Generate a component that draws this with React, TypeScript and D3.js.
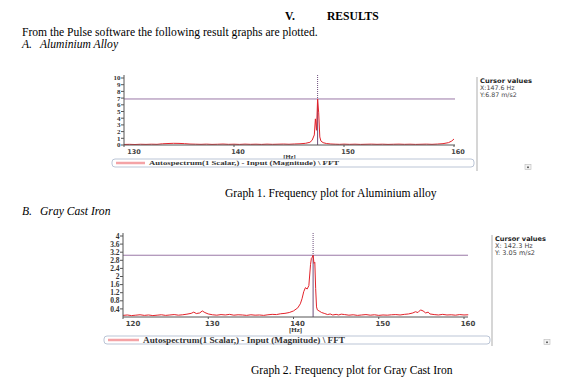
import * as d3 from 'd3';

// ---------------------------------------------------------------------------
// Data
// ---------------------------------------------------------------------------

const AL_FREQ = [
  130, 130.5, 131, 131.5, 132, 132.5, 133, 133.5, 134, 134.5, 135, 135.5, 136, 136.5,
  137, 137.5, 138, 138.5, 139, 139.5, 140, 140.5, 141, 141.5, 142, 142.5, 143, 143.5,
  144, 144.5, 145, 145.5, 146, 146.5, 146.9, 147.1, 147.3, 147.4, 147.5, 147.6, 147.7,
  147.8, 147.9, 148.1, 148.4, 148.8, 149.2, 149.6, 150, 150.5, 151, 151.5, 152, 152.5,
  153, 153.5, 154, 154.5, 155, 155.5, 156, 156.5, 157, 157.5, 158, 158.5, 159, 159.5,
  159.8, 160,
];
const AL_AMP = [
  0.08, 0.1, 0.07, 0.11, 0.09, 0.12, 0.1, 0.18, 0.22, 0.25, 0.24, 0.2, 0.14, 0.12,
  0.1, 0.13, 0.09, 0.11, 0.14, 0.1, 0.12, 0.09, 0.13, 0.1, 0.12, 0.09, 0.13, 0.1,
  0.12, 0.14, 0.11, 0.15, 0.18, 0.25, 0.4, 0.7, 1.5, 3.9, 2.2, 6.87, 4.8,
  1.2, 0.6, 0.35, 0.22, 0.15, 0.12, 0.1, 0.13, 0.1, 0.12, 0.09, 0.11, 0.13,
  0.1, 0.12, 0.09, 0.11, 0.13, 0.1, 0.12, 0.09, 0.11, 0.13, 0.1, 0.14, 0.2, 0.35,
  0.6, 0.9,
];
const AL_X_TICKS = [130, 140, 150, 160];
const AL_Y_TICKS = [0, 1, 2, 3, 4, 5, 6, 7, 8, 9, 10];
const AL_CURSOR = { x: 147.6, y: 6.87, xText: 'X:147.6 Hz', yText: 'Y:6.87 m/s2' };

const CI_FREQ = [
  120, 120.5, 121, 121.5, 122, 122.5, 123, 123.5, 124, 124.5, 125, 125.5, 126, 126.5,
  127, 127.5, 128, 128.3, 128.6, 129, 129.3, 129.6, 130, 130.5, 131, 131.5, 132, 132.5,
  133, 133.5, 134, 134.5, 135, 135.5, 136, 136.5, 137, 137.5, 138, 138.5, 139, 139.5,
  140, 140.5, 140.8, 141, 141.2, 141.4, 141.6, 141.8, 142, 142.1, 142.2, 142.3, 142.4,
  142.5, 142.6, 142.7, 142.8, 143, 143.3, 143.6, 144, 144.3, 144.6, 145, 145.3, 145.6,
  146, 146.5, 147, 147.5, 148, 148.5, 149, 149.5, 150, 150.5, 151, 151.5, 152, 152.5,
  153, 153.5, 154, 154.3, 154.6, 154.9, 155.2, 155.5, 155.8, 156, 156.5, 157, 157.5,
  158, 158.5, 159, 159.5, 160, 160.5,
];
const CI_AMP = [
  0.08, 0.1, 0.07, 0.09, 0.11, 0.08, 0.1, 0.07, 0.09, 0.11, 0.08, 0.1, 0.12, 0.09,
  0.11, 0.14, 0.18, 0.24, 0.17, 0.2, 0.3, 0.22, 0.15, 0.11, 0.09, 0.12, 0.1, 0.13,
  0.09, 0.11, 0.1, 0.08, 0.11, 0.09, 0.1, 0.08, 0.11, 0.13, 0.12, 0.16, 0.18, 0.22,
  0.3, 0.45, 0.65, 0.9, 1.25, 1.45, 1.38, 1.55, 2.6, 2.9, 2.95, 3.05, 2.65,
  2.7, 1.4, 0.5, 0.35, 0.3, 0.22, 0.18, 0.12, 0.15, 0.1, 0.13, 0.1, 0.14,
  0.12, 0.09, 0.11, 0.08, 0.1, 0.12, 0.09, 0.11, 0.08, 0.1, 0.09, 0.11, 0.12, 0.1,
  0.13, 0.15, 0.2, 0.26, 0.22, 0.35, 0.3, 0.2, 0.24, 0.15, 0.12, 0.1, 0.13,
  0.1, 0.11, 0.09, 0.12, 0.1, 0.11,
];
const CI_X_TICKS = [120, 130, 140, 150, 160];
const CI_Y_TICKS = [0.4, 0.8, 1.2, 1.6, 2, 2.4, 2.8, 3.2, 3.6, 4];
const CI_CURSOR = { x: 142.3, y: 3.05, xText: 'X: 142.3 Hz', yText: 'Y: 3.05 m/s2' };

const LEGEND_LABEL = 'Autospectrum(1 Scalar,) - Input (Magnitude) \\ FFT';

// ---------------------------------------------------------------------------
// Colors / fonts
// ---------------------------------------------------------------------------

const SERIF = '"Liberation Serif", "Times New Roman", serif';
const SANS = '"DejaVu Sans", Verdana, sans-serif';
const LINE_RED = '#e3232b';
const LEGEND_RED = '#f4a3a6';
const CURSOR = '#9a78a6';
const CURSOR_DARK = '#6e4f7c';
const AXIS = '#555';

// ---------------------------------------------------------------------------
// Panel
// ---------------------------------------------------------------------------

interface Layout {
  xDomain: [number, number];
  xRange: [number, number];
  yDomain: [number, number];
  yRange: [number, number];
  axisTop: number;
  plotRight: number;
  font: number;
  yFont: number;
  labelY: number;
  hzY: number;
  legend: { x: number; y: number; w: number; h: number; textX: number; textW: number; font: number };
  side: { x: number; y0: number; y1: number; textY: number; font: number; textW: number };
  icon: { x: number; y: number };
}

function Panel({ freq, amp, xTicks, yTicks, cursor, L }: {
  freq: number[];
  amp: number[];
  xTicks: number[];
  yTicks: number[];
  cursor: { x: number; y: number; xText: string; yText: string };
  L: Layout;
}) {
  const x = d3.scaleLinear().domain(L.xDomain).range(L.xRange);
  const y = d3.scaleLinear().domain(L.yDomain).range(L.yRange);
  const pts = freq.map((f, i) => [f, amp[i]] as [number, number]);
  const line = d3.line<[number, number]>().x((d) => x(d[0])).y((d) => y(d[1]));
  const x0 = L.xRange[0];
  const base = L.yRange[0];
  const fmt = d3.format('~g');
  const cx = x(cursor.x);
  const cy = y(cursor.y);

  return (
    <g>
      {/* cursor lines */}
      <line x1={x0} x2={L.plotRight} y1={cy} y2={cy} stroke={CURSOR} strokeWidth={1} />
      <line x1={cx} x2={cx} y1={L.axisTop} y2={cy} stroke={CURSOR_DARK} strokeWidth={1} strokeDasharray="1,1" />
      <line x1={cx} x2={cx} y1={cy} y2={base} stroke={CURSOR_DARK} strokeWidth={1} />

      {/* spectrum */}
      <path d={line(pts) ?? ''} fill="none" stroke={LINE_RED} strokeWidth={1} />

      {/* y axis */}
      <line x1={x0} x2={x0} y1={L.axisTop} y2={base} stroke={AXIS} />
      {yTicks.map((t) => (
        <g key={t}>
          <line x1={x0 - 3} x2={x0} y1={y(t)} y2={y(t)} stroke={AXIS} />
          <text x={x0 - 3.5} y={y(t)} dy="0.35em" textAnchor="end" fontSize={L.yFont}
            fontFamily={SERIF} fontWeight="bold" fill="#333">{fmt(t)}</text>
        </g>
      ))}

      {/* x axis */}
      <line x1={x0} x2={L.plotRight} y1={base} y2={base} stroke={AXIS} />
      {xTicks.map((t, i) => (
        <g key={t}>
          <line x1={x(t)} x2={x(t)} y1={base} y2={base + 2} stroke={AXIS} />
          <text x={x(t) + (i === 0 ? 10 : 4)} y={L.labelY} dy="0.35em" textAnchor="middle"
            fontSize={L.font} fontFamily={SANS} fontWeight="bold" fill="#444">{t}</text>
        </g>
      ))}
      <text x={(x0 + L.plotRight) / 2} y={L.hzY} dy="0.35em" textAnchor="middle"
        fontSize={L.font} fontFamily={SERIF} fontWeight="bold" fill="#333">[Hz]</text>

      {/* legend */}
      <rect x={L.legend.x} y={L.legend.y} width={L.legend.w} height={L.legend.h} rx={3}
        fill="#fff" stroke="#a9b6cc" strokeWidth={0.8} />
      <line x1={L.legend.x + 4} x2={L.legend.textX - 4} y1={L.legend.y + L.legend.h / 2}
        y2={L.legend.y + L.legend.h / 2} stroke={LEGEND_RED} strokeWidth={2.5} />
      <text x={L.legend.textX} y={L.legend.y + L.legend.h / 2} dy="0.35em"
        fontSize={L.legend.font} fontFamily={SERIF} fontWeight="bold" fill="#333"
        textLength={L.legend.textW} lengthAdjust="spacingAndGlyphs">{LEGEND_LABEL}</text>

      {/* cursor value panel */}
      <line x1={L.side.x} x2={L.side.x} y1={L.side.y0} y2={L.side.y1} stroke="#c8c8c8" strokeWidth={1.5} />
      <g fontFamily={SANS} fontSize={L.side.font} fill="#222">
        <text x={L.side.x + 3} y={L.side.textY} dy="0.35em" fontWeight="bold"
          textLength={L.side.textW} lengthAdjust="spacingAndGlyphs">Cursor values</text>
        <text x={L.side.x + 3} y={L.side.textY + 7} dy="0.35em" fill="#444">{cursor.xText}</text>
        <text x={L.side.x + 3} y={L.side.textY + 14} dy="0.35em" fill="#444">{cursor.yText}</text>
      </g>
      <rect x={L.icon.x - 3} y={L.icon.y - 2.5} width={6} height={5} fill="#f2f2f2" stroke="#bbb" strokeWidth={0.6} />
      <rect x={L.icon.x - 0.8} y={L.icon.y - 0.5} width={1.6} height={1.6} fill="#444" />
    </g>
  );
}

const AL_LAYOUT: Layout = {
  xDomain: [130, 160],
  xRange: [124, 454],
  yDomain: [0, 10],
  yRange: [145, 78],
  axisTop: 75,
  plotRight: 455,
  font: 6.5,
  yFont: 7,
  labelY: 152,
  hzY: 156.5,
  legend: { x: 112, y: 159, w: 362, h: 8, textX: 149, textW: 190, font: 7 },
  side: { x: 477, y0: 77, y1: 171, textY: 81, font: 6.3, textW: 52 },
  icon: { x: 528, y: 167 },
};

const CI_LAYOUT: Layout = {
  xDomain: [120, 160],
  xRange: [123, 464],
  yDomain: [0, 4],
  yRange: [317, 236],
  axisTop: 233,
  plotRight: 468,
  font: 7,
  yFont: 7.5,
  labelY: 323.5,
  hzY: 330,
  legend: { x: 104, y: 336, w: 386, h: 8, textX: 143, textW: 202, font: 7.5 },
  side: { x: 492, y0: 235, y1: 346, textY: 239, font: 6.5, textW: 51 },
  icon: { x: 547, y: 342 },
};

export default function App() {
  return (
    <svg width={588} height={385} style={{ position: 'absolute', left: 0, top: 0, background: '#fff' }}>
      <g fontFamily={SERIF} fontSize={11.6} fill="#000">
        <text x={285} y={20} fontWeight="bold">V.</text>
        <text x={327} y={20} fontWeight="bold">RESULTS</text>
        <text x={22} y={36}>From the Pulse software the following result graphs are plotted.</text>
        <text x={22} y={48} fontStyle="italic">A.</text>
        <text x={40} y={48} fontStyle="italic">Aluminium Alloy</text>
        <text x={225} y={197}>Graph 1. Frequency plot for Aluminium alloy</text>
        <text x={22} y={215} fontStyle="italic">B.</text>
        <text x={40} y={215} fontStyle="italic">Gray Cast Iron</text>
        <text x={251} y={374}>Graph 2. Frequency plot for Gray Cast Iron</text>
      </g>
      <Panel freq={AL_FREQ} amp={AL_AMP} xTicks={AL_X_TICKS} yTicks={AL_Y_TICKS} cursor={AL_CURSOR} L={AL_LAYOUT} />
      <Panel freq={CI_FREQ} amp={CI_AMP} xTicks={CI_X_TICKS} yTicks={CI_Y_TICKS} cursor={CI_CURSOR} L={CI_LAYOUT} />
    </svg>
  );
}
